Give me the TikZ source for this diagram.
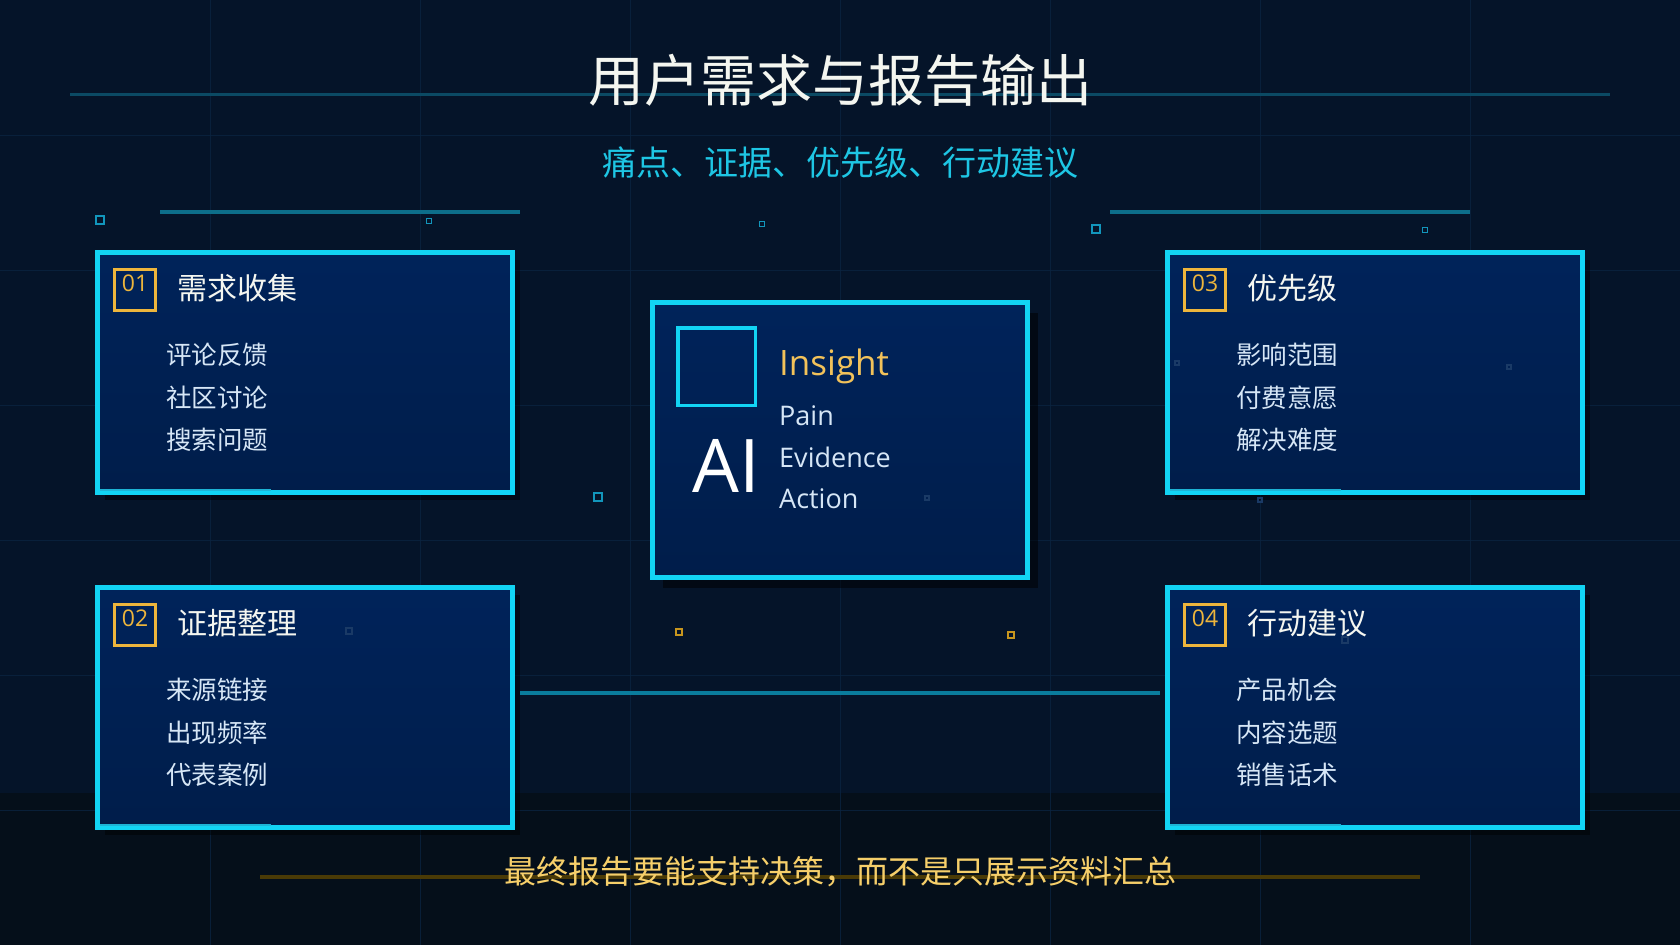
\documentclass[tikz,border=0pt]{standalone}
\usepackage{fontspec}
\setmainfont{Noto Sans CJK SC}
\newfontfamily\latinfont{Open Sans}
\usetikzlibrary{shadows}
\definecolor{bgc}{HTML}{051429}
\definecolor{gridc}{HTML}{0B2440}
\definecolor{footbg}{HTML}{050F1A}
\definecolor{boxtop}{HTML}{00235A}
\definecolor{boxbot}{HTML}{001D4A}
\definecolor{cyanb}{HTML}{12D4F4}
\definecolor{accentc}{HTML}{1DB4D6}
\definecolor{titlec}{HTML}{F4F6F0}
\definecolor{subc}{HTML}{1EC6E4}
\definecolor{itemc}{HTML}{D6E6F6}
\definecolor{badgeor}{HTML}{EDB53C}
\definecolor{insc}{HTML}{F2C25A}
\definecolor{footc}{HTML}{F6CF6A}
\definecolor{footline}{HTML}{4A3A06}
\definecolor{tline}{HTML}{0B4A64}
\definecolor{dline}{HTML}{0D6E8A}
\definecolor{connc}{HTML}{0A7C9C}
\definecolor{dotc}{HTML}{1296BC}
\definecolor{faintc}{HTML}{1A3A66}
\definecolor{dotor}{HTML}{C8961E}
\newcommand\sidecard[8]{%
  \node[card, cardshadow] (#1) at ({#2+210},{#3+122.5}) {};
  \draw[accent] ({#2+5},{#3+240}) -- ({#2+176},{#3+240});
  \node[badge] (#1b) at ({#2+40},{#3+40}) {};
  \node[num] (#1n) at ({#2+40},{#3+33.5}) {#4};
  \node[cardtitle] (#1t) at ({#2+82},{#3+38}) {#5};
  \node[item] (#1i1) at ({#2+71},{#3+105}) {#6};
  \node[item] (#1i2) at ({#2+71},{#3+147.5}) {#7};
  \node[item] (#1i3) at ({#2+71},{#3+190}) {#8};
}
\begin{document}
\begin{tikzpicture}[x=1pt,y=-1pt,
  card/.style={draw=cyanb, line width=5pt, top color=boxtop, bottom color=boxbot,
    minimum width=415pt, minimum height=240pt, inner sep=0pt},
  cardshadow/.style={drop shadow={shadow xshift=7pt, shadow yshift=-7pt, fill=black, opacity=0.45}},
  accent/.style={draw=accentc, line width=2pt},
  badge/.style={draw=badgeor, line width=3pt, minimum size=41pt, inner sep=0pt},
  num/.style={font=\latinfont\fontsize{23}{23}\selectfont, text=badgeor, inner sep=0pt},
  cardtitle/.style={font=\fontsize{30}{30}\selectfont, text=titlec, anchor=west, inner sep=0pt},
  item/.style={font=\fontsize{25.5}{26}\selectfont, text=itemc, anchor=west, inner sep=0pt},
  eng/.style={font=\latinfont\fontsize{27}{27}\selectfont, text=itemc, anchor=base west, inner sep=0pt},
  hollow/.style={draw=dotc, line width=2pt},
  faint/.style={draw=faintc, line width=1.5pt},
  conn/.style={draw=connc, line width=4pt, shorten <=5pt, shorten >=5pt}
]
\useasboundingbox (0,0) rectangle (1680,945);
% background
\fill[bgc] (0,0) rectangle (1680,945);
\fill[footbg] (0,793) rectangle (1680,945);
\foreach \gx in {210,420,...,1470} \draw[gridc, line width=1pt, opacity=0.8] (\gx,0) -- (\gx,945);
\foreach \gy in {135,270,...,810} \draw[gridc, line width=1pt, opacity=0.8] (0,\gy) -- (1680,\gy);
% decorative lines
\draw[tline, line width=3pt] (70,94) -- (1610,94);
\draw[dline, line width=4pt] (160,212) -- (520,212);
\draw[dline, line width=4pt] (1110,212) -- (1470,212);
\draw[footline, line width=4pt] (260,877) -- (1420,877);
% small squares
\draw[hollow] (96,216) rectangle (104,224);
\draw[hollow] (594,493) rectangle (602,501);
\draw[hollow] (1092,225) rectangle (1100,233);
\draw[hollow, line width=1.5pt] (426.5,218.5) rectangle (431.5,223.5);
\draw[hollow, line width=1.5pt] (759.5,221.5) rectangle (764.5,226.5);
\draw[hollow, line width=1.5pt] (1422.5,227.5) rectangle (1427.5,232.5);
\draw[dotor, line width=2.2pt] (676,629) rectangle (682,635);
\draw[dotor, line width=2pt] (1008,632) rectangle (1014,638);
% title
\node[font=\fontsize{56}{56}\selectfont, text=titlec, inner sep=0pt] (title) at (840,80) {用户需求与报告输出};
\node[font=\fontsize{34}{34}\selectfont, text=subc, inner sep=0pt] (subtitle) at (840,163) {痛点、证据、优先级、行动建议};
% side cards
\sidecard{c1}{95}{250}{01}{需求收集}{评论反馈}{社区讨论}{搜索问题}
\sidecard{c2}{95}{585}{02}{证据整理}{来源链接}{出现频率}{代表案例}
\sidecard{c3}{1165}{250}{03}{优先级}{影响范围}{付费意愿}{解决难度}
\sidecard{c4}{1165}{585}{04}{行动建议}{产品机会}{内容选题}{销售话术}
% faint particles over cards
\draw[faint] (346,628) rectangle (352,634);
\draw[faint] (1342,637) rectangle (1348,643);
\draw[faint] (1175,361) rectangle (1179,365);
\draw[faint] (1507,365) rectangle (1511,369);
\draw[faint] (1258,498) rectangle (1262,502);
% connector
\draw[conn] ([yshift=15pt]c2.east) -- ([yshift=15pt]c4.west);
% center card
\node[card, minimum width=375pt, minimum height=275pt,
  drop shadow={shadow xshift=10pt, shadow yshift=-10pt, fill=black, opacity=0.5}] (core) at (840,440) {};
\draw[faint] (925,496) rectangle (929,500);
\node[draw=cyanb, line width=3.5pt, minimum size=77.5pt, inner sep=0pt] (aisq) at (716.5,366.5) {};
\node[font=\latinfont\fontsize{74}{74}\selectfont, text=white, anchor=base, inner sep=0pt] (ai) at (726.5,492) {AI};
\node[eng, font=\latinfont\fontsize{35}{35}\selectfont, text=insc] (insight) at (779,375) {Insight};
\node[eng] (pain) at (779,425) {Pain};
\node[eng] (evid) at (779,467) {Evidence};
\node[eng] (action) at (779,508) {Action};
% footer
\node[font=\fontsize{32}{32}\selectfont, text=footc, inner sep=0pt] (footer) at (840,872) {最终报告要能支持决策，而不是只展示资料汇总};
\end{tikzpicture}
\end{document}
